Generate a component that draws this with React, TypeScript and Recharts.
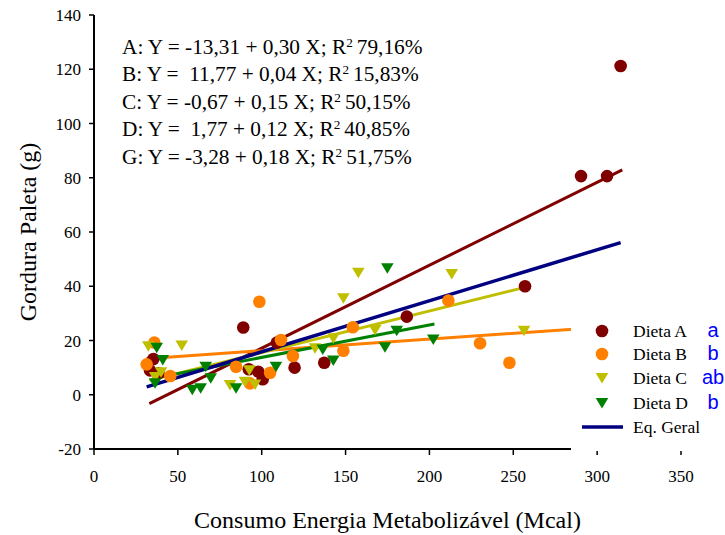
import React from 'react';
import { ScatterChart, Scatter, XAxis, YAxis, Legend } from 'recharts';

const xTicks = [0, 50, 100, 150, 200, 250, 300, 350];
const yTicks = [-20, 0, 20, 40, 60, 80, 100, 120, 140];

const dietaA = [
  { x: 35.4, y: 13.2 }, { x: 33.4, y: 9.0 }, { x: 38.4, y: 7.9 }, { x: 89, y: 24.8 },
  { x: 92.3, y: 9.4 }, { x: 98, y: 8.5 }, { x: 100.6, y: 5.7 }, { x: 109, y: 19.2 },
  { x: 119.6, y: 10.0 }, { x: 137.3, y: 11.8 }, { x: 186.5, y: 28.8 }, { x: 257, y: 40.0 },
  { x: 290.4, y: 80.6 }, { x: 305.9, y: 80.6 }, { x: 314, y: 121.2 },
];
const dietaB = [
  { x: 36, y: 19.2 }, { x: 31.4, y: 11.2 }, { x: 45.5, y: 6.9 }, { x: 84.7, y: 10.3 },
  { x: 98.6, y: 34.3 }, { x: 93, y: 4.2 }, { x: 105, y: 8.1 }, { x: 111.5, y: 20.2 },
  { x: 118.6, y: 14.3 }, { x: 148.7, y: 16.2 }, { x: 154.3, y: 24.9 }, { x: 211.3, y: 34.7 },
  { x: 230.2, y: 19.0 }, { x: 247.7, y: 11.8 },
];
const dietaC = [
  { x: 32.4, y: 17.9 }, { x: 52.3, y: 18.2 }, { x: 40, y: 8.3 }, { x: 36.5, y: 6.5 },
  { x: 81.1, y: 3.6 }, { x: 90, y: 4.8 }, { x: 92.6, y: 9.0 }, { x: 96, y: 3.8 },
  { x: 131.8, y: 17.1 }, { x: 142.7, y: 20.8 }, { x: 148.7, y: 35.6 }, { x: 157.6, y: 45.0 },
  { x: 167.6, y: 23.9 }, { x: 213.3, y: 44.5 }, { x: 256.4, y: 23.6 },
];
const dietaD = [
  { x: 37.4, y: 17.3 }, { x: 41, y: 12.8 }, { x: 36.4, y: 4.2 }, { x: 58.6, y: 1.8 },
  { x: 63.6, y: 2.4 }, { x: 66.6, y: 10.3 }, { x: 69.6, y: 6.1 }, { x: 84.7, y: 2.4 },
  { x: 108.5, y: 10.3 }, { x: 136.4, y: 16.7 }, { x: 142.7, y: 12.6 }, { x: 173.5, y: 17.5 },
  { x: 174.9, y: 46.6 }, { x: 180.5, y: 23.6 }, { x: 202.3, y: 20.4 },
];

const lineA = [{ x: 33, y: -3.3 }, { x: 315, y: 82.9 }];
const lineB = [{ x: 31, y: 13.3 }, { x: 350, y: 26.9 }];
const lineC = [{ x: 33, y: 5.3 }, { x: 257, y: 39.6 }];
const lineD = [{ x: 35, y: 6.0 }, { x: 203, y: 26.1 }];
const lineG = [{ x: 31.4, y: 2.9 }, { x: 314, y: 56.1 }];

const equations = [
  { text: 'A: Y = -13,31 + 0,30 X; R', r2: '79,16%' },
  { text: 'B: Y =  11,77 + 0,04 X; R', r2: '15,83%' },
  { text: 'C: Y = -0,67 + 0,15 X; R', r2: '50,15%' },
  { text: 'D: Y =  1,77 + 0,12 X; R', r2: '40,85%' },
  { text: 'G: Y = -3,28 + 0,18 X; R', r2: '51,75%' },
];

const legendItems = [
  { name: 'Dieta A', color: '#800000', kind: 'circle', letter: 'a' },
  { name: 'Dieta B', color: '#FF8000', kind: 'circle', letter: 'b' },
  { name: 'Dieta C', color: '#BFBF00', kind: 'tri', letter: 'ab' },
  { name: 'Dieta D', color: '#008000', kind: 'tri', letter: 'b' },
  { name: 'Eq. Geral', color: '#000080', kind: 'line', letter: '' },
];

const SERIF = '"Liberation Serif", "Times New Roman", serif';

const makeCircle = (color: string) => (props: any) => {
  const { cx, cy } = props;
  if (cx == null || cy == null) return <g />;
  return <circle cx={cx} cy={cy} r={6.3} fill={color} />;
};
const makeTri = (color: string) => (props: any) => {
  const { cx, cy } = props;
  if (cx == null || cy == null) return <g />;
  return (
    <polygon
      points={`${cx - 6.3},${cy - 5} ${cx + 6.3},${cy - 5} ${cx},${cy + 5.5}`}
      fill={color}
    />
  );
};
const noShape = () => <g />;

const LegendBox = () => {
  const rowY = [19, 42, 66, 91, 115];
  return (
    <svg width={155} height={139} style={{ display: 'block' }}>
      {legendItems.map((it, i) => {
        const y = rowY[i];
        let marker: any = null;
        if (it.kind === 'circle') marker = <circle cx={31} cy={y} r={6.3} fill={it.color} />;
        else if (it.kind === 'tri')
          marker = <polygon points={`${24.7},${y - 5} ${37.3},${y - 5} ${31},${y + 5.5}`} fill={it.color} />;
        else marker = <line x1={11} x2={52} y1={y} y2={y} stroke={it.color} strokeWidth={3.5} />;
        return (
          <g key={it.name}>
            {marker}
            <text x={62} y={y} dominantBaseline="central" fontFamily={SERIF} fontSize={17.5} fill="#000">
              {it.name}
            </text>
            {it.letter ? (
              <text x={142} y={y - 1} dominantBaseline="central" textAnchor="middle"
                fontFamily='"Liberation Sans", Arial, sans-serif' fontSize={20} fill="#0000FF">
                {it.letter}
              </text>
            ) : null}
          </g>
        );
      })}
    </svg>
  );
};

export default function App() {
  return (
    <div style={{ position: 'absolute', left: 0, top: 0, width: 725, height: 535, background: '#fff', overflow: 'hidden' }}>
      <ScatterChart width={725} height={535} margin={{ top: 15, right: 44, bottom: 26, left: 0 }}>
        <XAxis
          type="number"
          dataKey="x"
          domain={[0, 350]}
          ticks={xTicks}
          interval={0}
          height={60}
          axisLine={{ stroke: '#000', strokeWidth: 2 }}
          tickLine={{ stroke: '#000', strokeWidth: 1.5 }}
          tickSize={6}
          tick={{ fill: '#000', fontSize: 17, fontFamily: SERIF }}
          tickMargin={15}
          label={{
            content: (p: any) => {
              const vb = p.viewBox || {};
              return (
                <text x={vb.x + vb.width / 2} y={520} textAnchor="middle" dominantBaseline="central"
                  fontFamily={SERIF} fontSize={24} fill="#000">
                  Consumo Energia Metabolizável (Mcal)
                </text>
              );
            },
          }}
        />
        <YAxis
          type="number"
          dataKey="y"
          domain={[-20, 140]}
          ticks={yTicks}
          interval={0}
          width={94}
          axisLine={{ stroke: '#000', strokeWidth: 2 }}
          tickLine={{ stroke: '#000', strokeWidth: 1.5 }}
          tickSize={5}
          tick={{ fill: '#000', fontSize: 17, fontFamily: SERIF }}
          tickMargin={8}
          label={{
            content: (p: any) => {
              const vb = p.viewBox || {};
              const cy = vb.y + vb.height / 2;
              return (
                <text x={28} y={cy} transform={`rotate(-90 28 ${cy})`} textAnchor="middle"
                  dominantBaseline="central" fontFamily={SERIF} fontSize={24} fill="#000">
                  Gordura Paleta (g)
                </text>
              );
            },
          }}
        />
        <Scatter data={lineA} line={{ stroke: '#800000', strokeWidth: 3 }} shape={noShape} isAnimationActive={false} legendType="none" />
        <Scatter data={lineB} line={{ stroke: '#FF8000', strokeWidth: 3 }} shape={noShape} isAnimationActive={false} legendType="none" />
        <Scatter data={lineC} line={{ stroke: '#BFBF00', strokeWidth: 3 }} shape={noShape} isAnimationActive={false} legendType="none" />
        <Scatter data={lineD} line={{ stroke: '#008000', strokeWidth: 3 }} shape={noShape} isAnimationActive={false} legendType="none" />
        <Scatter data={lineG} line={{ stroke: '#000080', strokeWidth: 3.5 }} shape={noShape} isAnimationActive={false} legendType="none" />
        <Scatter name="Dieta A" data={dietaA} shape={makeCircle('#800000')} isAnimationActive={false} />
        <Scatter name="Dieta B" data={dietaB} shape={makeCircle('#FF8000')} isAnimationActive={false} />
        <Scatter name="Dieta C" data={dietaC} shape={makeTri('#BFBF00')} isAnimationActive={false} />
        <Scatter name="Dieta D" data={dietaD} shape={makeTri('#008000')} isAnimationActive={false} />
        <Legend
          layout="vertical"
          align="center"
          verticalAlign="middle"
          content={() => <LegendBox />}
          wrapperStyle={{ position: 'absolute', left: 571, top: 312, width: 155, height: 138.5, background: '#fff', margin: 0, padding: 0, overflow: 'hidden' }}
        />
      </ScatterChart>
      <div
        style={{
          position: 'absolute', left: 122, top: 34.75, fontFamily: SERIF, fontSize: 21.3,
          lineHeight: '24.5px', whiteSpace: 'pre', color: '#000', pointerEvents: 'none',
        }}
      >
        {equations.map((e) => (
          <div key={e.text}>
            {e.text}
            <span style={{ fontSize: '0.62em', position: 'relative', top: '-0.55em', marginRight: 4 }}>2</span>
            {e.r2}
          </div>
        ))}
      </div>
    </div>
  );
}
